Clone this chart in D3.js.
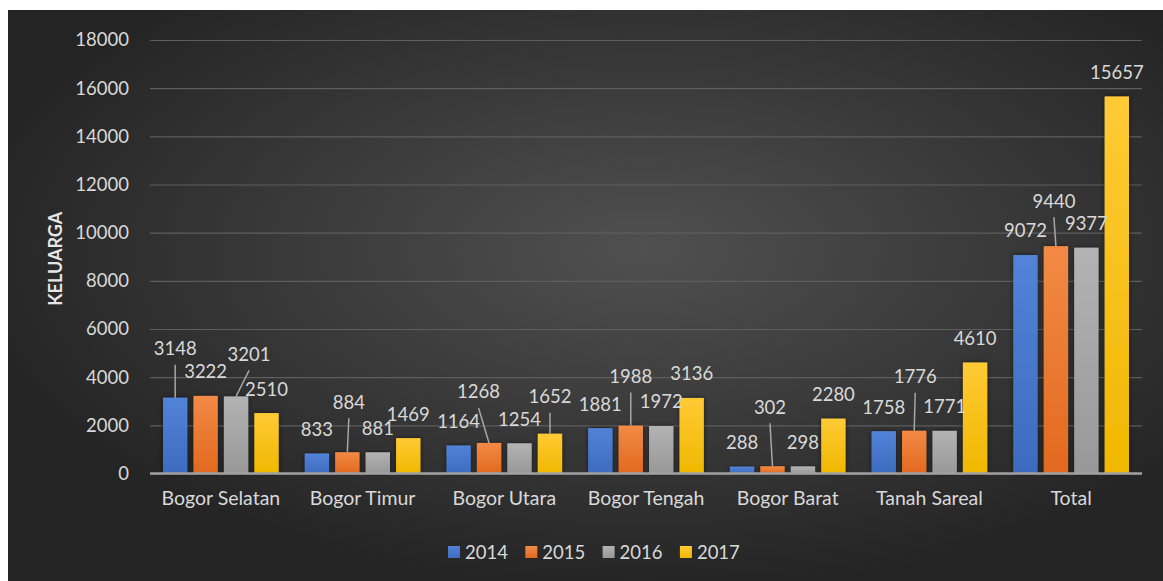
<!DOCTYPE html>
<html>
<head>
<meta charset="utf-8">
<script src="https://cdn.jsdelivr.net/npm/d3@7"></script>
<style>
  html, body { margin: 0; padding: 0; background: #fff; }
  svg { display: block; font-family: Lato, "Open Sans", sans-serif; }
</style>
</head>
<body>
<svg id="chart" width="1163" height="581"></svg>
<script>
const categories = ["Bogor Selatan", "Bogor Timur", "Bogor Utara", "Bogor Tengah", "Bogor Barat", "Tanah Sareal", "Total"];
const years = ["2014", "2015", "2016", "2017"];
const values2014 = [3148, 833, 1164, 1881, 288, 1758, 9072];
const values2015 = [3222, 884, 1268, 1988, 302, 1776, 9440];
const values2016 = [3201, 881, 1254, 1972, 298, 1771, 9377];
const values2017 = [2510, 1469, 1652, 3136, 2280, 4610, 15657];
const yTicks = [0, 2000, 4000, 6000, 8000, 10000, 12000, 14000, 16000, 18000];
const yTitle = "KELUARGA";

const series = [values2014, values2015, values2016, values2017];
const colors = {
  "2014": ["#5283d8", "#3d6bbf"],
  "2015": ["#f28a45", "#e2691f"],
  "2016": ["#b3b3b3", "#989898"],
  "2017": ["#ffca35", "#f0b800"]
};

// labels that Excel moved off the bar (leader lines), in px from the default spot
const DEFAULT_LIFT = 24;
const moved = {
  "2014|Bogor Selatan": { dx: 0, lift: 49 },
  "2016|Bogor Selatan": { dx: 13, lift: 42 },
  "2015|Bogor Timur": { dx: 1.5, lift: 50 },
  "2015|Bogor Utara": { dx: -10.5, lift: 51 },
  "2017|Bogor Utara": { dx: 0, lift: 37 },
  "2015|Bogor Tengah": { dx: 0, lift: 49 },
  "2015|Bogor Barat": { dx: -2.5, lift: 59 },
  "2015|Tanah Sareal": { dx: 1, lift: 54 },
  "2015|Total": { dx: -2, lift: 45 }
};

const W = 1163, H = 581;
const M = { left: 150, right: 1142, top: 40, bottom: 473.5 };
const FONT = "Lato, 'Open Sans', sans-serif";

const svg = d3.select("#chart");
const defs = svg.append("defs");

const bg = defs.append("radialGradient")
  .attr("id", "bg")
  .attr("cx", "55%").attr("cy", "42%").attr("r", "60%");
bg.append("stop").attr("offset", "0%").attr("stop-color", "#505050");
bg.append("stop").attr("offset", "100%").attr("stop-color", "#242424");

years.forEach(yr => {
  const g = defs.append("linearGradient")
    .attr("id", "g" + yr)
    .attr("x1", 0).attr("y1", 0).attr("x2", 0).attr("y2", 1);
  g.append("stop").attr("offset", "0%").attr("stop-color", colors[yr][0]);
  g.append("stop").attr("offset", "100%").attr("stop-color", colors[yr][1]);
});

const shadow = defs.append("filter").attr("id", "shadow")
  .attr("x", "-30%").attr("y", "-10%").attr("width", "160%").attr("height", "120%");
shadow.append("feDropShadow")
  .attr("dx", 0).attr("dy", 0).attr("stdDeviation", 2.5)
  .attr("flood-color", "#000").attr("flood-opacity", 0.55);

svg.append("rect")
  .attr("x", 8).attr("y", 10)
  .attr("width", W - 8).attr("height", H - 10)
  .attr("fill", "url(#bg)");

const x0 = d3.scaleBand().domain(categories).range([M.left, M.right]);
const x1 = d3.scaleBand().domain(years)
  .range([13, x0.bandwidth() - 13])
  .paddingInner(0.2);
const y = d3.scaleLinear().domain([0, 18000]).range([M.bottom, M.top]);

// gridlines + y tick labels
const yAxis = svg.append("g")
  .attr("transform", "translate(" + M.left + ",0)")
  .call(d3.axisLeft(y)
    .tickValues(yTicks)
    .tickFormat(d3.format("d"))
    .tickSize(-(M.right - M.left))
    .tickPadding(21));
yAxis.select(".domain").remove();
yAxis.selectAll(".tick line")
  .attr("stroke", "#5e5e5e")
  .attr("stroke-width", 1.2);
yAxis.selectAll(".tick text")
  .attr("fill", "#d9d9d9")
  .attr("font-size", 18.5)
  .attr("font-family", FONT);

// bars
const rows = [];
categories.forEach((c, i) => {
  years.forEach((yr, j) => {
    rows.push({ cat: c, year: yr, value: series[j][i] });
  });
});

svg.append("g")
  .selectAll("rect")
  .data(rows)
  .enter()
  .append("rect")
  .attr("x", d => x0(d.cat) + x1(d.year))
  .attr("y", d => y(d.value))
  .attr("width", x1.bandwidth())
  .attr("height", d => y(0) - y(d.value))
  .attr("fill", d => "url(#g" + d.year + ")")
  .attr("filter", "url(#shadow)");

// baseline
svg.append("line")
  .attr("x1", M.left).attr("x2", M.right)
  .attr("y1", y(0)).attr("y2", y(0))
  .attr("stroke", "#a0a0a0")
  .attr("stroke-width", 2.5);

// category labels
const xAxis = svg.append("g")
  .attr("transform", "translate(0," + y(0) + ")")
  .call(d3.axisBottom(x0).tickSize(0).tickPadding(18));
xAxis.select(".domain").remove();
xAxis.selectAll(".tick text")
  .attr("fill", "#d9d9d9")
  .attr("font-size", 19.5)
  .attr("font-family", FONT);

// data labels with leader lines
const barCenter = d => x0(d.cat) + x1(d.year) + x1.bandwidth() / 2;
const labelPos = d => {
  const m = moved[d.year + "|" + d.cat];
  return {
    x: barCenter(d) + (m ? m.dx : 0),
    y: y(d.value) - (m ? m.lift : DEFAULT_LIFT)
  };
};

svg.append("g")
  .selectAll("line")
  .data(rows.filter(d => moved[d.year + "|" + d.cat]))
  .enter()
  .append("line")
  .attr("x1", d => labelPos(d).x)
  .attr("y1", d => labelPos(d).y + 16)
  .attr("x2", barCenter)
  .attr("y2", d => y(d.value))
  .attr("stroke", "#a6a6a6")
  .attr("stroke-width", 1.5);

svg.append("g")
  .selectAll("text")
  .data(rows)
  .enter()
  .append("text")
  .attr("x", d => labelPos(d).x)
  .attr("y", d => labelPos(d).y)
  .attr("dy", "0.35em")
  .attr("text-anchor", "middle")
  .attr("fill", "#d9d9d9")
  .attr("font-size", 18.5)
  .text(d => d.value);

// y title
svg.append("text")
  .attr("transform", "translate(62," + ((M.top + M.bottom) / 2 + 2) + ") rotate(-90)")
  .attr("text-anchor", "middle")
  .attr("fill", "#e6e6e6")
  .attr("font-size", 18)
  .attr("font-weight", "bold")
  .text(yTitle);

// legend
const LEGEND_X = 448;
const LEGEND_Y = 546;
const LEGEND_STEP = 77.3;
const legendItem = svg.append("g")
  .selectAll("g")
  .data(years)
  .enter()
  .append("g")
  .attr("transform", (d, i) => "translate(" + (LEGEND_X + i * LEGEND_STEP) + "," + LEGEND_Y + ")");

legendItem.append("rect")
  .attr("width", 12).attr("height", 12)
  .attr("fill", d => "url(#g" + d + ")");

legendItem.append("text")
  .attr("x", 17)
  .attr("y", 12.5)
  .attr("fill", "#d9d9d9")
  .attr("font-size", 18.5)
  .text(d => d);
</script>
</body>
</html>
